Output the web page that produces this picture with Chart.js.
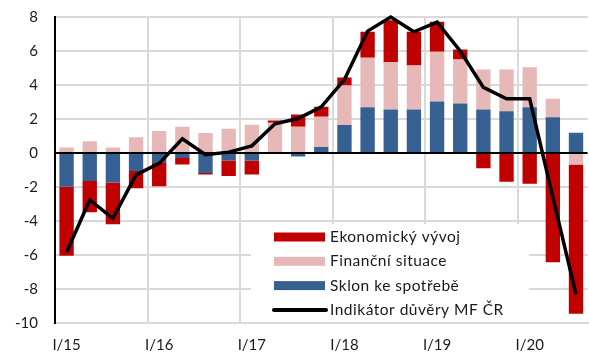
<!DOCTYPE html>
<html>
<head>
<meta charset="utf-8">
<script src="https://cdn.jsdelivr.net/npm/chart.js@4"></script>
<style>
  html, body { margin: 0; padding: 0; background: #fff; }
  #wrap { width: 589px; height: 360px; }
</style>
</head>
<body>
<div id="wrap"><canvas id="chart"></canvas></div>
<script>
// quarters I/15 .. III/20
const quarters = [
  'I/15','II/15','III/15','IV/15',
  'I/16','II/16','III/16','IV/16',
  'I/17','II/17','III/17','IV/17',
  'I/18','II/18','III/18','IV/18',
  'I/19','II/19','III/19','IV/19',
  'I/20','II/20','III/20'
];

const sklonSpotrebe = [
  -1.98, -1.65, -1.74, -1.06,
  -0.59, -0.30, -1.17, -0.44,
  -0.44,  0.00, -0.20,  0.36,
   1.64,  2.69,  2.56,  2.56,
   3.03,  2.91,  2.56,  2.46,
   2.69,  2.11,  1.19
];

const financniSituace = [
  0.33, 0.69, 0.33, 0.92,
  1.30, 1.54, 1.18, 1.42,
  1.66, 1.78, 1.54, 1.77,
  2.33, 2.91, 2.80, 2.59,
  2.92, 2.59, 2.35, 2.45,
  2.36, 1.08, -0.68
];

const ekonomickyVyvoj = [
  -4.06, -1.84, -2.45, -1.02,
  -1.37, -0.38, -0.10, -0.92,
  -0.83,  0.13,  0.72,  0.59,
   0.47,  1.53,  2.45,  1.98,
   1.77,  0.59, -0.90, -1.69,
  -1.81, -6.43, -8.78
];

const indikatorDuvery = [
  -5.84, -2.76, -3.84, -1.29,
  -0.61,  0.84, -0.10,  0.05,
   0.42,  1.72,  2.03,  2.72,
   4.32,  7.17,  8.00,  7.13,
   7.70,  6.00,  3.86,  3.19,
   3.19, -2.60, -8.32
];

const yTicks = [-10, -8, -6, -4, -2, 0, 2, 4, 6, 8];

const FONT = 'Lato, "Open Sans", sans-serif';
const RED = '#c00000', PINK = '#e6b9b8', BLUE = '#376092';

// white legend panel inside the plot, drawn over the grid but under the bars
const boxLegend = {
  id: 'boxLegend',
  beforeDatasetsDraw(chart) {
    const c = chart.ctx;
    const items = [
      { label: 'Ekonomický vývoj', color: RED, line: false },
      { label: 'Finanční situace', color: PINK, line: false },
      { label: 'Sklon ke spotřebě', color: BLUE, line: false },
      { label: 'Indikátor důvěry MF ČR', color: '#000', line: true }
    ];
    c.save();
    c.fillStyle = '#fff';
    c.fillRect(251, 224, 278, 98);
    c.font = '15.5px ' + FONT;
    c.letterSpacing = '0.5px';
    c.textBaseline = 'middle';
    items.forEach((it, i) => {
      const y = 237 + i * 24.3;
      if (it.line) {
        c.strokeStyle = it.color;
        c.lineWidth = 4;
        c.lineCap = 'round';
        c.beginPath();
        c.moveTo(274, y);
        c.lineTo(326, y);
        c.stroke();
      } else {
        c.fillStyle = it.color;
        c.fillRect(274, y - 4.5, 51, 9);
      }
      c.fillStyle = '#1a1a1a';
      c.fillText(it.label, 330, y);
    });
    c.restore();
  }
};

new Chart(document.getElementById('chart'), {
  data: {
    labels: quarters,
    datasets: [
      { type: 'bar', label: 'Sklon ke spotřebě', data: sklonSpotrebe, backgroundColor: BLUE, order: 1 },
      { type: 'bar', label: 'Finanční situace', data: financniSituace, backgroundColor: PINK, order: 1 },
      { type: 'bar', label: 'Ekonomický vývoj', data: ekonomickyVyvoj, backgroundColor: RED, order: 1 },
      {
        type: 'line', label: 'Indikátor důvěry MF ČR', data: indikatorDuvery,
        borderColor: '#000', borderWidth: 3.5, pointRadius: 0, tension: 0,
        borderJoinStyle: 'miter', clip: false, order: 0
      }
    ]
  },
  options: {
    responsive: true,
    maintainAspectRatio: false,
    animation: false,
    layout: { padding: { top: 17, right: 0, left: 0, bottom: 0 } },
    datasets: { bar: { barPercentage: 0.62, categoryPercentage: 1 } },
    plugins: { legend: { display: false }, tooltip: { enabled: false } },
    scales: {
      x: {
        stacked: true,
        afterFit: s => { s.height = 37; },
        grid: {
          offset: true,
          drawTicks: false,
          lineWidth: 2,
          color: ctx => (ctx.index > 0 && ctx.index % 4 === 0) ? '#d9d9d9' : 'rgba(0,0,0,0)'
        },
        border: { color: '#d9d9d9', width: 2 },
        ticks: {
          autoSkip: false,
          maxRotation: 0,
          padding: 13,
          color: '#1a1a1a',
          font: { family: FONT, size: 15 },
          callback: (v, i) => i % 4 === 0 ? quarters[i] : ''
        }
      },
      y: {
        stacked: true,
        min: yTicks[0],
        max: yTicks[yTicks.length - 1],
        afterFit: s => { s.width = 55; s.paddingTop = 0; s.paddingBottom = 0; },
        afterBuildTicks: s => { s.ticks = yTicks.map(v => ({ value: v })); },
        grid: {
          drawTicks: false,
          lineWidth: 2,
          color: ctx => ctx.tick && ctx.tick.value === 0 ? '#000' : '#d9d9d9'
        },
        border: { color: '#000', width: 2 },
        ticks: {
          padding: 17,
          color: '#1a1a1a',
          font: { family: FONT, size: 15 }
        }
      }
    }
  },
  plugins: [boxLegend]
});
</script>
</body>
</html>
